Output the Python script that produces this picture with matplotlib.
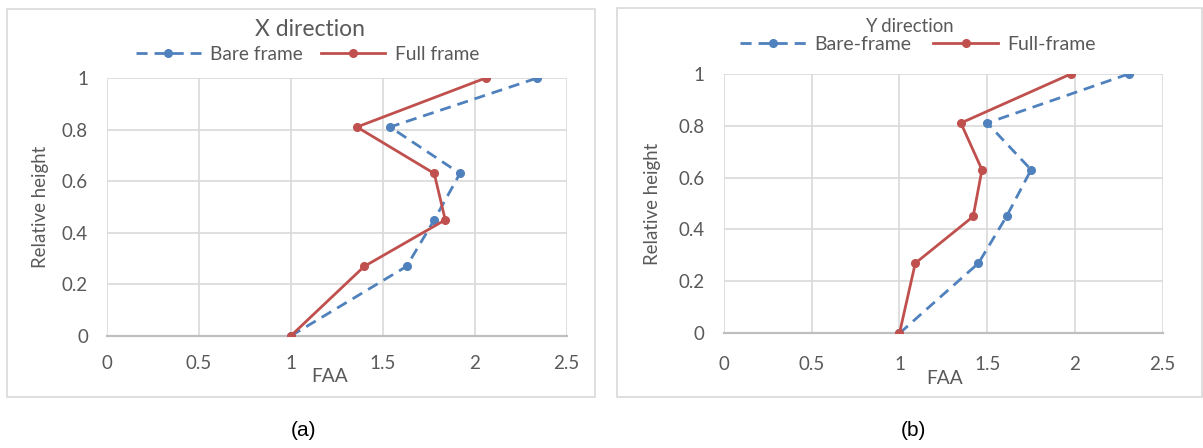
import matplotlib
matplotlib.use('Agg')
import matplotlib.pyplot as plt
from matplotlib.patches import Rectangle

# data
height = [0, 0.27, 0.45, 0.63, 0.81, 1.0]

x_bare = [1.0, 1.63, 1.78, 1.92, 1.54, 2.34]
x_full = [1.0, 1.40, 1.84, 1.78, 1.36, 2.06]

y_bare = [1.0, 1.45, 1.61, 1.75, 1.50, 2.31]
y_full = [1.0, 1.09, 1.42, 1.47, 1.35, 1.98]

xticks = [0, 0.5, 1, 1.5, 2, 2.5]
yticks = [0, 0.2, 0.4, 0.6, 0.8, 1]

W, H = 1203, 448
blue = '#4F81BD'
red = '#C0504D'
txt = '#595959'
grid = '#D9D9D9'

plt.rcParams['font.family'] = ['Lato', 'DejaVu Sans']

fig = plt.figure(figsize=(W / 100, H / 100), dpi=100)


def px_axes(x0, y0, x1, y1):
    # pixel box (top-left origin) -> figure axes
    return fig.add_axes([x0 / W, 1 - y1 / H, (x1 - x0) / W, (y1 - y0) / H])


def frame(x0, y0, x1, y1):
    fig.add_artist(Rectangle((x0 / W, 1 - y1 / H), (x1 - x0) / W, (y1 - y0) / H,
                             transform=fig.transFigure, fill=False,
                             edgecolor=grid, linewidth=1.2))


def style(ax, fs, xpad, ypad):
    ax.set_xlim(0, 2.5)
    ax.set_ylim(0, 1)
    ax.set_xticks(xticks)
    ax.set_yticks(yticks)
    ax.set_xticklabels([f'{t:g}' for t in xticks])
    ax.set_yticklabels([f'{t:g}' for t in yticks])
    ax.grid(True, color=grid, linewidth=1.2)
    ax.set_axisbelow(True)
    for s in ['top', 'right', 'left']:
        ax.spines[s].set_visible(False)
    ax.spines['bottom'].set_color('#BFBFBF')
    ax.spines['bottom'].set_linewidth(1.6)
    ax.tick_params(length=0, labelsize=fs, colors=txt)
    ax.tick_params(axis='x', pad=xpad)
    ax.tick_params(axis='y', pad=ypad)


def draw(ax, xb, xf, lab_b, lab_f):
    ax.plot(xb, height, color=blue, linewidth=2, linestyle=(0, (4, 2.5)),
            marker='o', markersize=5.5, label=lab_b, zorder=3)
    ax.plot(xf, height, color=red, linewidth=2,
            marker='o', markersize=5.5, label=lab_f, zorder=4)


# panel (a)
frame(7, 9, 595, 397)
ax1 = px_axes(106.7, 78, 566.7, 336)
style(ax1, 13.5, 14, 13.5)
draw(ax1, x_bare, x_full, 'Bare frame', 'Full frame')
ax1.set_xlabel('FAA', fontsize=13.75, color=txt)
ax1.xaxis.set_label_coords(0.485, -0.125)
ax1.set_ylabel('Relative height', fontsize=13.4, color=txt)
ax1.yaxis.set_label_coords(-0.125, 0.5)
fig.text(310 / W, 1 - 30 / H, 'X direction', fontsize=16.5, color=txt,
         ha='center', va='center')
ax1.legend(loc='center', bbox_to_anchor=(307.5 / W, 1 - 54 / H),
           bbox_transform=fig.transFigure, ncol=2, frameon=False,
           fontsize=13.75, labelcolor=txt, handlelength=3.4,
           handletextpad=0.49, columnspacing=0.93, borderpad=0)

# panel (b)
frame(617, 8.5, 1202, 397)
ax2 = px_axes(724, 73.7, 1162.7, 333.3)
style(ax2, 13.5, 16, 14)
draw(ax2, y_bare, y_full, 'Bare-frame', 'Full-frame')
ax2.set_xlabel('FAA', fontsize=13.75, color=txt)
ax2.xaxis.set_label_coords(0.504, -0.142)
ax2.set_ylabel('Relative height', fontsize=13.4, color=txt)
ax2.yaxis.set_label_coords(-0.144, 0.5)
fig.text(909.7 / W, 1 - 27 / H, 'Y direction', fontsize=13.4, color=txt,
         ha='center', va='center')
ax2.legend(loc='center', bbox_to_anchor=(918 / W, 1 - 44 / H),
           bbox_transform=fig.transFigure, ncol=2, frameon=False,
           fontsize=14, labelcolor=txt, handlelength=3.35,
           handletextpad=0.46, columnspacing=1.1, borderpad=0)

fig.text(303 / W, 1 - 430 / H, '(a)', fontsize=15, ha='center', va='center',
         family=['Liberation Sans', 'DejaVu Sans'])
fig.text(913 / W, 1 - 430 / H, '(b)', fontsize=15, ha='center', va='center',
         family=['Liberation Sans', 'DejaVu Sans'])

fig.savefig('out.png', dpi=100)
